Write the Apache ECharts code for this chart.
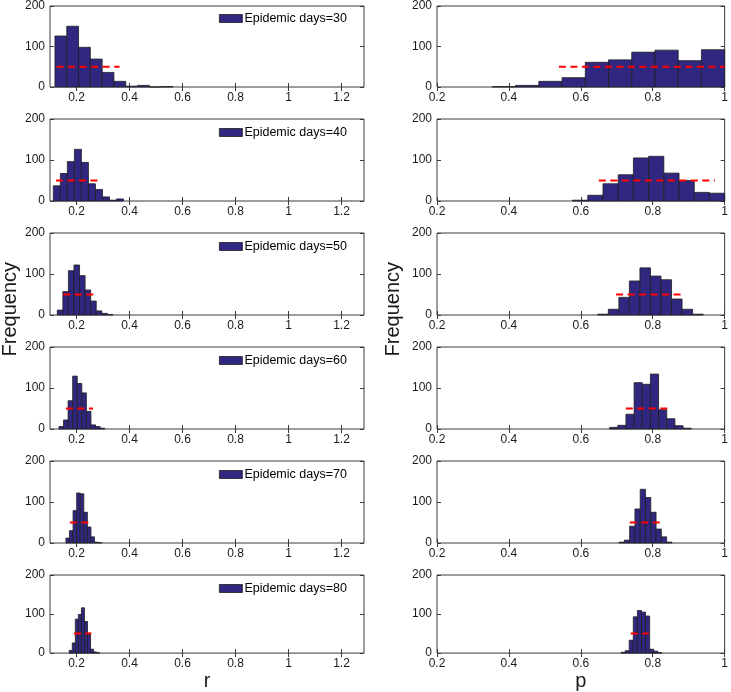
<!DOCTYPE html>
<html>
<head>
<meta charset="utf-8">
<script src="https://cdn.jsdelivr.net/npm/echarts@6/dist/echarts.min.js"></script>
<style>html,body{margin:0;padding:0;background:#fff}#chart{width:731px;height:692px}</style>
</head>
<body>
<div id="chart"></div>
<script>
// ---------- data ----------
const legendLabels = ['Epidemic days=30','Epidemic days=40','Epidemic days=50','Epidemic days=60','Epidemic days=70','Epidemic days=80'];
const rTickLabels = [0.2, 0.4, 0.6, 0.8, 1, 1.2];
const yTicks = [0, 100, 200];
const refLevel = 50;

const r30Centers = [0.141,0.1855,0.230,0.2746,0.319,0.3637,0.408,0.4527,0.497,0.5417];
const r30Counts  = [126,150,98,69,36,14,2,4,0,1];
const p30Centers = [0.3863,0.4509,0.5155,0.5801,0.6447,0.7093,0.7739,0.8385,0.9031,0.9677];
const p30Counts  = [1,4,14,23,61,67,86,91,65,92];

const r40Centers = [0.1258,0.1523,0.1788,0.2053,0.2318,0.2583,0.2848,0.3113,0.3378,0.3643];
const r40Counts  = [37,67,96,126,94,42,28,10,2,5];
const p40Centers = [0.5982,0.6405,0.6828,0.7251,0.7674,0.8097,0.852,0.8943,0.9366,0.9789];
const p40Counts  = [2,14,42,64,105,109,68,50,21,19];

const r50Centers = [0.138,0.159,0.180,0.201,0.222,0.243,0.264,0.285,0.306,0.327];
const r50Counts  = [12,57,108,122,96,61,34,10,4,1];
const p50Centers = [0.6618,0.6911,0.7204,0.7497,0.779,0.8083,0.8376,0.8669,0.8962,0.9255];
const p50Counts  = [2,14,43,83,115,95,86,39,14,2];

const r60Centers = [0.1424,0.1597,0.1769,0.1942,0.2114,0.2287,0.2459,0.2632,0.2804,0.2977];
const r60Counts  = [6,22,69,129,111,88,43,10,6,2];
const p60Centers = [0.6914,0.7141,0.7368,0.7595,0.7822,0.8049,0.8276,0.8503,0.873,0.8957];
const p60Counts  = [4,9,36,113,109,134,47,25,8,2];

const r70Centers = [0.1668,0.1803,0.1938,0.2073,0.2208,0.2343,0.2478,0.2613,0.2748,0.2883];
const r70Counts  = [12,30,79,122,120,75,39,15,2,1];
const p70Centers = [0.7137,0.7284,0.7431,0.7578,0.7725,0.7872,0.8019,0.8166,0.8313,0.846];
const p70Counts  = [2,7,41,83,131,111,75,34,15,2];

const r80Centers = [0.1783,0.1898,0.2013,0.2128,0.2243,0.2358,0.2473,0.2588,0.2703,0.2818];
const r80Counts  = [7,26,87,99,116,81,51,10,3,1];
const p80Centers = [0.7175,0.7289,0.7402,0.7516,0.763,0.7743,0.7857,0.797,0.8084,0.8198];
const p80Counts  = [2,6,33,93,109,105,95,10,5,1];

const rLineStart = [0.125,0.1225,0.150,0.160,0.175,0.190];
const rLineEnd   = [0.3625,0.2825,0.269,0.2625,0.246,0.2563];
const pLineStart = [0.539,0.650,0.698,0.725,0.736,0.739];
const pLineEnd   = [1.0,0.9726,0.8836,0.8426,0.8227,0.789];

const rCentersAll = [r30Centers,r40Centers,r50Centers,r60Centers,r70Centers,r80Centers];
const rCountsAll  = [r30Counts,r40Counts,r50Counts,r60Counts,r70Counts,r80Counts];
const pCentersAll = [p30Centers,p40Centers,p50Centers,p60Centers,p70Centers,p80Centers];
const pCountsAll  = [p30Counts,p40Counts,p50Counts,p60Counts,p70Counts,p80Counts];

// ---------- styling / layout ----------
const FONT = 'Liberation Sans, Arial, Helvetica, sans-serif';
const BAR_FILL = '#302880';
const BAR_EDGE = '#1e1e1e';
const FRAME = '#3a3a3a';
const rowTop = r => 5 + r * 114;
const ROW_H = 82;

const grids = [], xAxes = [], yAxes = [], series = [], legends = [];

function histSeries(centers, counts, axisIdx, name) {
  const w = (centers[centers.length - 1] - centers[0]) / (centers.length - 1);
  return {
    type: 'custom', name: name, xAxisIndex: axisIdx.x, yAxisIndex: axisIdx.y,
    data: centers.map((c, i) => [c, counts[i]]),
    encode: { x: 0, y: 1 },
    itemStyle: { color: BAR_FILL, borderColor: BAR_EDGE, borderWidth: 0.8 },
    renderItem: function (params, api) {
      const x = api.value(0), y = api.value(1);
      const a = api.coord([x - w / 2, y]);
      const b = api.coord([x + w / 2, 0]);
      const cs = params.coordSys;
      const shape = echarts.graphic.clipRectByRect(
        { x: a[0], y: a[1], width: b[0] - a[0], height: b[1] - a[1] },
        { x: cs.x, y: cs.y, width: cs.width, height: cs.height });
      if (!shape) return;
      return { type: 'rect', shape: shape,
        style: { fill: BAR_FILL, stroke: BAR_EDGE, lineWidth: 0.8 } };
    },
    z: 2
  };
}

function lineSeries(x0, x1, axisIdx) {
  return {
    type: 'line', xAxisIndex: axisIdx.x, yAxisIndex: axisIdx.y,
    data: [[x0, refLevel], [x1, refLevel]],
    symbol: 'none', silent: true, z: 5,
    lineStyle: { color: '#ff0000', width: 2, type: [7, 4.5] }
  };
}

const tickLabelStyle = { color: '#1a1a1a', fontFamily: FONT, fontSize: 12 };

for (let row = 0; row < 6; row++) {
  for (let col = 0; col < 2; col++) {
    const g = grids.length;
    grids.push({
      left: col === 0 ? 50 : 437, width: col === 0 ? 314 : 293,
      top: rowTop(row), height: ROW_H,
      show: true, borderColor: FRAME, borderWidth: 1, backgroundColor: 'transparent'
    });
    const isR = col === 0;
    const xBase = {
      type: 'value', gridIndex: g,
      min: isR ? 0.1 : 0.2, max: isR ? 1.285 : 1.0,
      splitLine: { show: false }, axisLine: { show: false }
    };
    const xi = xAxes.length;
    if (isR) {
      xAxes.push(Object.assign({}, xBase, {
        position: 'bottom',
        axisTick: { inside: true, length: 4, lineStyle: { color: FRAME }, customValues: rTickLabels },
        axisLabel: Object.assign({ margin: 5, customValues: rTickLabels }, tickLabelStyle),
        name: row === 5 ? 'r' : '', nameLocation: 'middle', nameGap: 13,
        nameTextStyle: { fontFamily: FONT, fontSize: 20, color: '#1a1a1a' }
      }));
      xAxes.push(Object.assign({}, xBase, {
        position: 'top',
        axisTick: { inside: true, length: 4, lineStyle: { color: FRAME }, customValues: rTickLabels },
        axisLabel: { show: false }
      }));
    } else {
      xAxes.push(Object.assign({}, xBase, {
        position: 'bottom', interval: 0.2,
        axisTick: { inside: true, length: 4, lineStyle: { color: FRAME } },
        axisLabel: Object.assign({ margin: 5 }, tickLabelStyle),
        name: row === 5 ? 'p' : '', nameLocation: 'middle', nameGap: 13,
        nameTextStyle: { fontFamily: FONT, fontSize: 20, color: '#1a1a1a' }
      }));
      xAxes.push(Object.assign({}, xBase, {
        position: 'top', interval: 0.2,
        axisTick: { inside: true, length: 4, lineStyle: { color: FRAME } },
        axisLabel: { show: false }
      }));
    }
    const yBase = {
      type: 'value', gridIndex: g, min: yTicks[0], max: yTicks[2], interval: yTicks[1] - yTicks[0],
      splitLine: { show: false }, axisLine: { show: false }
    };
    const yi = yAxes.length;
    yAxes.push(Object.assign({}, yBase, {
      position: 'left',
      axisTick: { inside: true, length: 4, lineStyle: { color: FRAME } },
      axisLabel: Object.assign({ margin: 5 }, tickLabelStyle)
    }));
    yAxes.push(Object.assign({}, yBase, {
      position: 'right',
      axisTick: { inside: true, length: 4, lineStyle: { color: FRAME } },
      axisLabel: { show: false }
    }));
    const axisIdx = { x: xi, y: yi };
    if (isR) {
      series.push(histSeries(rCentersAll[row], rCountsAll[row], axisIdx, legendLabels[row]));
      series.push(lineSeries(rLineStart[row], rLineEnd[row], axisIdx));
      legends.push({
        data: [legendLabels[row]], left: 219, top: rowTop(row) + 7, padding: 0,
        icon: 'rect', itemWidth: 23, itemHeight: 8, itemGap: 0,
        itemStyle: { borderColor: BAR_EDGE, borderWidth: 0.8 },
        textStyle: { fontFamily: FONT, fontSize: 12.5, color: '#000', padding: [0, 0, 0, -3] },
        selectedMode: false
      });
    } else {
      series.push(histSeries(pCentersAll[row], pCountsAll[row], axisIdx, 'p' + row));
      series.push(lineSeries(pLineStart[row], pLineEnd[row], axisIdx));
    }
  }
}

const chart = echarts.init(document.getElementById('chart'), null, { renderer: 'canvas' });
chart.setOption({
  animation: false,
  backgroundColor: '#ffffff',
  grid: grids, xAxis: xAxes, yAxis: yAxes, series: series, legend: legends,
  graphic: [
    { type: 'text', left: 0, top: 262, rotation: Math.PI / 2,
      style: { text: 'Frequency', fontFamily: FONT, fontSize: 20, fill: '#1a1a1a' } },
    { type: 'text', left: 383, top: 262, rotation: Math.PI / 2,
      style: { text: 'Frequency', fontFamily: FONT, fontSize: 20, fill: '#1a1a1a' } }
  ]
});
</script>
</body>
</html>
